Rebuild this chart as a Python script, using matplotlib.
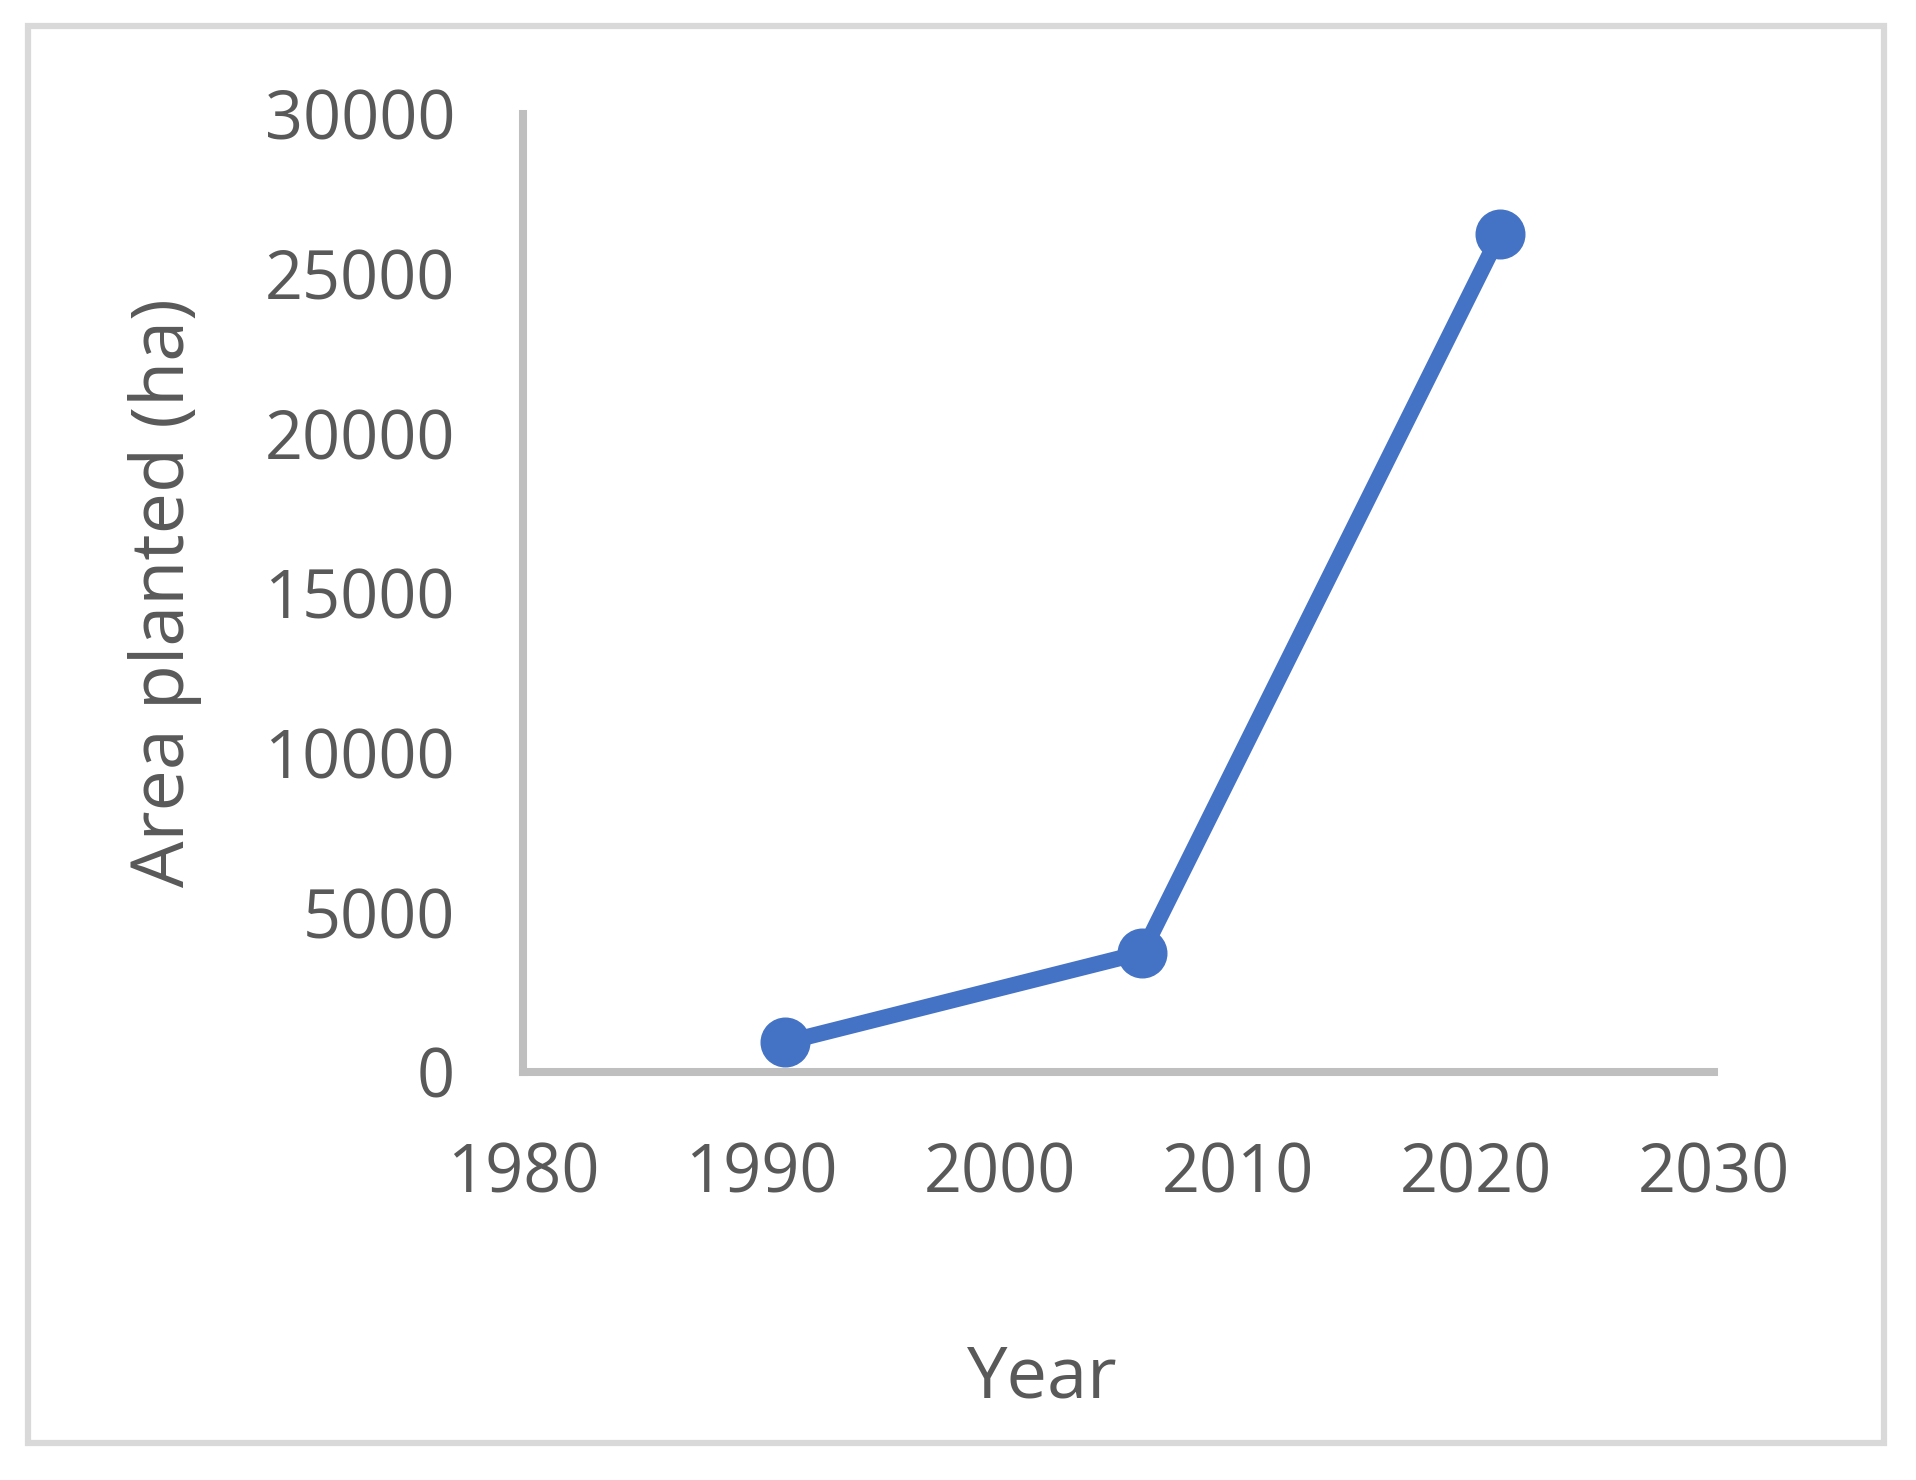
import matplotlib

matplotlib.use("Agg")
import matplotlib.pyplot as plt  # noqa: E402
from matplotlib.patches import Rectangle  # noqa: E402

years = [1991, 2006, 2021]
area_ha = [925, 3740, 26230]
x_ticks = [1980, 1990, 2000, 2010, 2020, 2030]
y_ticks = [0, 5000, 10000, 15000, 20000, 25000, 30000]

plt.rcParams["font.family"] = ["Open Sans", "DejaVu Sans"]
GREY_TXT = "#595959"
AXIS = "#bfbfbf"
BLUE = "#4472c4"

fig = plt.figure(figsize=(19.16, 14.8), dpi=100)
ax = fig.add_axes([0.273, 0.2757, 0.6216, 0.6473])

ax.plot(years, area_ha, color=BLUE, lw=11.5, marker="o", ms=35,
        solid_capstyle="butt", zorder=3, clip_on=False)

ax.set_xlim(1980, 2030)
ax.set_ylim(0, 30000)
ax.set_xticks(x_ticks)
ax.set_yticks(y_ticks)
ax.tick_params(length=0, labelsize=48, labelcolor=GREY_TXT)
ax.tick_params(axis="x", pad=50)
ax.tick_params(axis="y", pad=49)

for s in ("top", "right"):
    ax.spines[s].set_visible(False)
for s in ("left", "bottom"):
    ax.spines[s].set_color(AXIS)
    ax.spines[s].set_linewidth(5.8)

ax.set_xlabel("Year", fontsize=52, color=GREY_TXT)
ax.set_ylabel("Area planted (ha)", fontsize=53, color=GREY_TXT)
ax.xaxis.set_label_coords(0.436, -0.283)
ax.yaxis.set_label_coords(-0.27, 0.5)

# outer chart-area border
fig.patches.append(Rectangle((28 / 1916, 1 - 1443 / 1480), 1856 / 1916, 1417 / 1480,
                             transform=fig.transFigure, fill=False,
                             ec="#d9d9d9", lw=4.5, zorder=0))

fig.savefig("out.png", dpi=100)
